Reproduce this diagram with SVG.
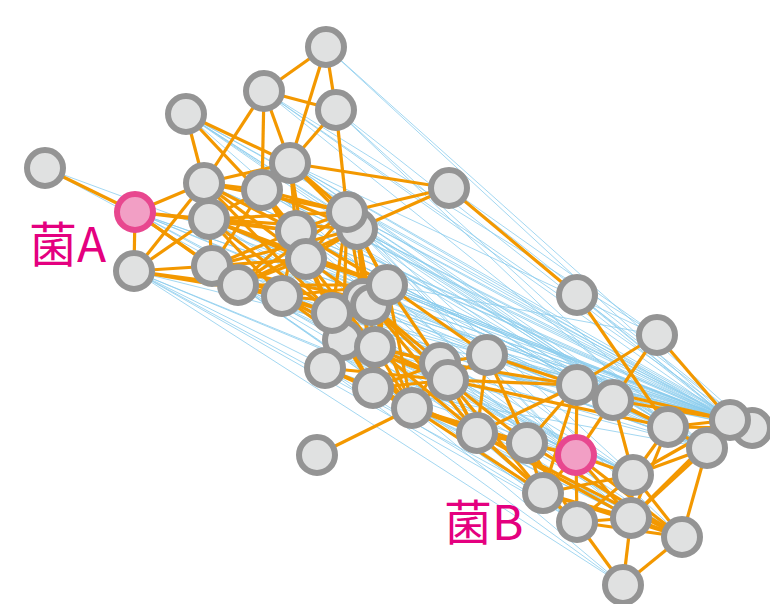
<svg xmlns="http://www.w3.org/2000/svg" width="770" height="604" viewBox="0 0 770 604">
<style>
.b{stroke:#8bcdee;stroke-width:0.8;fill:none}
.o{stroke:#f39800;stroke-width:3.2;fill:none}
.n{fill:#e0e1e1;stroke:#949494;stroke-width:6}
.p{fill:#f29fc5;stroke:#e8478f;stroke-width:6}
.lb{font-family:"Noto Sans CJK JP","Noto Sans",sans-serif;font-size:48px;fill:#e4007f}
</style>
<rect width="770" height="604" fill="#ffffff"/>
<g id="connectors">
<g id="weak-links">
<line class="b" x1="326" y1="47" x2="730" y2="420"/>
<line class="b" x1="326" y1="47" x2="752" y2="428"/>
<line class="b" x1="264" y1="91" x2="730" y2="420"/>
<line class="b" x1="264" y1="91" x2="752" y2="428"/>
<line class="b" x1="264" y1="91" x2="657" y2="335"/>
<line class="b" x1="264" y1="91" x2="707" y2="448"/>
<line class="b" x1="336" y1="110" x2="730" y2="420"/>
<line class="b" x1="336" y1="110" x2="707" y2="448"/>
<line class="b" x1="336" y1="110" x2="668" y2="427"/>
<line class="b" x1="186" y1="114" x2="730" y2="420"/>
<line class="b" x1="186" y1="114" x2="752" y2="428"/>
<line class="b" x1="186" y1="114" x2="707" y2="448"/>
<line class="b" x1="186" y1="114" x2="668" y2="427"/>
<line class="b" x1="186" y1="114" x2="613" y2="400"/>
<line class="b" x1="186" y1="114" x2="577" y2="385"/>
<line class="b" x1="186" y1="114" x2="576" y2="455"/>
<line class="b" x1="290" y1="163" x2="730" y2="420"/>
<line class="b" x1="290" y1="163" x2="752" y2="428"/>
<line class="b" x1="290" y1="163" x2="707" y2="448"/>
<line class="b" x1="290" y1="163" x2="657" y2="335"/>
<line class="b" x1="290" y1="163" x2="668" y2="427"/>
<line class="b" x1="204" y1="183" x2="730" y2="420"/>
<line class="b" x1="204" y1="183" x2="752" y2="428"/>
<line class="b" x1="204" y1="183" x2="707" y2="448"/>
<line class="b" x1="204" y1="183" x2="668" y2="427"/>
<line class="b" x1="204" y1="183" x2="576" y2="455"/>
<line class="b" x1="262" y1="190" x2="730" y2="420"/>
<line class="b" x1="262" y1="190" x2="752" y2="428"/>
<line class="b" x1="262" y1="190" x2="707" y2="448"/>
<line class="b" x1="262" y1="190" x2="613" y2="400"/>
<line class="b" x1="449" y1="188" x2="730" y2="420"/>
<line class="b" x1="449" y1="188" x2="752" y2="428"/>
<line class="b" x1="449" y1="188" x2="657" y2="335"/>
<line class="b" x1="135" y1="212" x2="730" y2="420"/>
<line class="b" x1="135" y1="212" x2="752" y2="428"/>
<line class="b" x1="135" y1="212" x2="707" y2="448"/>
<line class="b" x1="135" y1="212" x2="576" y2="455"/>
<line class="b" x1="135" y1="212" x2="633" y2="475"/>
<line class="b" x1="135" y1="212" x2="668" y2="427"/>
<line class="b" x1="45" y1="168" x2="730" y2="420"/>
<line class="b" x1="45" y1="168" x2="576" y2="455"/>
<line class="b" x1="209" y1="219" x2="730" y2="420"/>
<line class="b" x1="209" y1="219" x2="752" y2="428"/>
<line class="b" x1="209" y1="219" x2="707" y2="448"/>
<line class="b" x1="209" y1="219" x2="668" y2="427"/>
<line class="b" x1="209" y1="219" x2="633" y2="475"/>
<line class="b" x1="209" y1="219" x2="576" y2="455"/>
<line class="b" x1="347" y1="212" x2="730" y2="420"/>
<line class="b" x1="347" y1="212" x2="752" y2="428"/>
<line class="b" x1="347" y1="212" x2="707" y2="448"/>
<line class="b" x1="347" y1="212" x2="668" y2="427"/>
<line class="b" x1="347" y1="212" x2="633" y2="475"/>
<line class="b" x1="347" y1="212" x2="631" y2="518"/>
<line class="b" x1="357" y1="229" x2="730" y2="420"/>
<line class="b" x1="357" y1="229" x2="752" y2="428"/>
<line class="b" x1="357" y1="229" x2="707" y2="448"/>
<line class="b" x1="357" y1="229" x2="682" y2="537"/>
<line class="b" x1="357" y1="229" x2="576" y2="455"/>
<line class="b" x1="296" y1="231" x2="730" y2="420"/>
<line class="b" x1="296" y1="231" x2="752" y2="428"/>
<line class="b" x1="296" y1="231" x2="707" y2="448"/>
<line class="b" x1="296" y1="231" x2="633" y2="475"/>
<line class="b" x1="296" y1="231" x2="631" y2="518"/>
<line class="b" x1="134" y1="271" x2="730" y2="420"/>
<line class="b" x1="134" y1="271" x2="576" y2="455"/>
<line class="b" x1="134" y1="271" x2="543" y2="493"/>
<line class="b" x1="134" y1="271" x2="577" y2="522"/>
<line class="b" x1="134" y1="271" x2="631" y2="518"/>
<line class="b" x1="134" y1="271" x2="633" y2="475"/>
<line class="b" x1="134" y1="271" x2="623" y2="585"/>
<line class="b" x1="212" y1="266" x2="730" y2="420"/>
<line class="b" x1="212" y1="266" x2="707" y2="448"/>
<line class="b" x1="212" y1="266" x2="633" y2="475"/>
<line class="b" x1="212" y1="266" x2="576" y2="455"/>
<line class="b" x1="212" y1="266" x2="577" y2="522"/>
<line class="b" x1="212" y1="266" x2="682" y2="537"/>
<line class="b" x1="306" y1="259" x2="730" y2="420"/>
<line class="b" x1="306" y1="259" x2="752" y2="428"/>
<line class="b" x1="306" y1="259" x2="707" y2="448"/>
<line class="b" x1="306" y1="259" x2="631" y2="518"/>
<line class="b" x1="238" y1="285" x2="633" y2="475"/>
<line class="b" x1="238" y1="285" x2="576" y2="455"/>
<line class="b" x1="238" y1="285" x2="577" y2="522"/>
<line class="b" x1="238" y1="285" x2="631" y2="518"/>
<line class="b" x1="238" y1="285" x2="543" y2="493"/>
<line class="b" x1="282" y1="296" x2="730" y2="420"/>
<line class="b" x1="282" y1="296" x2="707" y2="448"/>
<line class="b" x1="282" y1="296" x2="633" y2="475"/>
<line class="b" x1="282" y1="296" x2="682" y2="537"/>
<line class="b" x1="387" y1="285" x2="730" y2="420"/>
<line class="b" x1="387" y1="285" x2="752" y2="428"/>
<line class="b" x1="387" y1="285" x2="707" y2="448"/>
<line class="b" x1="387" y1="285" x2="657" y2="335"/>
<line class="b" x1="363" y1="299" x2="730" y2="420"/>
<line class="b" x1="363" y1="299" x2="707" y2="448"/>
<line class="b" x1="371" y1="305" x2="730" y2="420"/>
<line class="b" x1="371" y1="305" x2="752" y2="428"/>
<line class="b" x1="332" y1="313" x2="730" y2="420"/>
<line class="b" x1="332" y1="313" x2="707" y2="448"/>
<line class="b" x1="332" y1="313" x2="633" y2="475"/>
<line class="b" x1="332" y1="313" x2="577" y2="522"/>
<line class="b" x1="343" y1="340" x2="707" y2="448"/>
<line class="b" x1="343" y1="340" x2="631" y2="518"/>
<line class="b" x1="375" y1="347" x2="730" y2="420"/>
<line class="b" x1="375" y1="347" x2="752" y2="428"/>
<line class="b" x1="325" y1="368" x2="633" y2="475"/>
<line class="b" x1="325" y1="368" x2="577" y2="522"/>
<line class="b" x1="325" y1="368" x2="623" y2="585"/>
<line class="b" x1="373" y1="388" x2="707" y2="448"/>
<line class="b" x1="373" y1="388" x2="631" y2="518"/>
<line class="b" x1="440" y1="363" x2="730" y2="420"/>
<line class="b" x1="440" y1="363" x2="752" y2="428"/>
<line class="b" x1="448" y1="380" x2="707" y2="448"/>
<line class="b" x1="448" y1="380" x2="682" y2="537"/>
<line class="b" x1="487" y1="355" x2="730" y2="420"/>
<line class="b" x1="487" y1="355" x2="752" y2="428"/>
<line class="b" x1="487" y1="355" x2="668" y2="427"/>
<line class="b" x1="577" y1="295" x2="730" y2="420"/>
<line class="b" x1="577" y1="295" x2="752" y2="428"/>
<line class="b" x1="412" y1="408" x2="623" y2="585"/>
<line class="b" x1="412" y1="408" x2="682" y2="537"/>
</g>
<g id="strong-links">
<line class="o" x1="326" y1="47" x2="264" y2="91"/>
<line class="o" x1="326" y1="47" x2="336" y2="110"/>
<line class="o" x1="326" y1="47" x2="290" y2="163"/>
<line class="o" x1="264" y1="91" x2="336" y2="110"/>
<line class="o" x1="264" y1="91" x2="290" y2="163"/>
<line class="o" x1="264" y1="91" x2="204" y2="183"/>
<line class="o" x1="264" y1="91" x2="262" y2="190"/>
<line class="o" x1="336" y1="110" x2="290" y2="163"/>
<line class="o" x1="336" y1="110" x2="347" y2="212"/>
<line class="o" x1="186" y1="114" x2="204" y2="183"/>
<line class="o" x1="186" y1="114" x2="290" y2="163"/>
<line class="o" x1="186" y1="114" x2="296" y2="231"/>
<line class="o" x1="45" y1="168" x2="135" y2="212"/>
<line class="o" x1="290" y1="163" x2="204" y2="183"/>
<line class="o" x1="290" y1="163" x2="262" y2="190"/>
<line class="o" x1="290" y1="163" x2="449" y2="188"/>
<line class="o" x1="290" y1="163" x2="296" y2="231"/>
<line class="o" x1="290" y1="163" x2="347" y2="212"/>
<line class="o" x1="290" y1="163" x2="306" y2="259"/>
<line class="o" x1="290" y1="163" x2="357" y2="229"/>
<line class="o" x1="204" y1="183" x2="262" y2="190"/>
<line class="o" x1="204" y1="183" x2="209" y2="219"/>
<line class="o" x1="204" y1="183" x2="347" y2="212"/>
<line class="o" x1="204" y1="183" x2="296" y2="231"/>
<line class="o" x1="204" y1="183" x2="306" y2="259"/>
<line class="o" x1="204" y1="183" x2="332" y2="313"/>
<line class="o" x1="262" y1="190" x2="209" y2="219"/>
<line class="o" x1="262" y1="190" x2="296" y2="231"/>
<line class="o" x1="262" y1="190" x2="347" y2="212"/>
<line class="o" x1="262" y1="190" x2="306" y2="259"/>
<line class="o" x1="262" y1="190" x2="357" y2="229"/>
<line class="o" x1="262" y1="190" x2="212" y2="266"/>
<line class="o" x1="449" y1="188" x2="347" y2="212"/>
<line class="o" x1="449" y1="188" x2="357" y2="229"/>
<line class="o" x1="449" y1="188" x2="577" y2="295"/>
<line class="o" x1="135" y1="212" x2="204" y2="183"/>
<line class="o" x1="135" y1="212" x2="209" y2="219"/>
<line class="o" x1="135" y1="212" x2="296" y2="231"/>
<line class="o" x1="135" y1="212" x2="212" y2="266"/>
<line class="o" x1="135" y1="212" x2="238" y2="285"/>
<line class="o" x1="135" y1="212" x2="134" y2="271"/>
<line class="o" x1="134" y1="271" x2="204" y2="183"/>
<line class="o" x1="134" y1="271" x2="209" y2="219"/>
<line class="o" x1="134" y1="271" x2="212" y2="266"/>
<line class="o" x1="134" y1="271" x2="238" y2="285"/>
<line class="o" x1="134" y1="271" x2="282" y2="296"/>
<line class="o" x1="209" y1="219" x2="347" y2="212"/>
<line class="o" x1="209" y1="219" x2="357" y2="229"/>
<line class="o" x1="209" y1="219" x2="296" y2="231"/>
<line class="o" x1="209" y1="219" x2="212" y2="266"/>
<line class="o" x1="209" y1="219" x2="306" y2="259"/>
<line class="o" x1="209" y1="219" x2="282" y2="296"/>
<line class="o" x1="209" y1="219" x2="387" y2="285"/>
<line class="o" x1="209" y1="219" x2="332" y2="313"/>
<line class="o" x1="347" y1="212" x2="296" y2="231"/>
<line class="o" x1="347" y1="212" x2="306" y2="259"/>
<line class="o" x1="347" y1="212" x2="387" y2="285"/>
<line class="o" x1="347" y1="212" x2="363" y2="299"/>
<line class="o" x1="347" y1="212" x2="332" y2="313"/>
<line class="o" x1="347" y1="212" x2="343" y2="340"/>
<line class="o" x1="357" y1="229" x2="306" y2="259"/>
<line class="o" x1="357" y1="229" x2="387" y2="285"/>
<line class="o" x1="357" y1="229" x2="371" y2="305"/>
<line class="o" x1="357" y1="229" x2="375" y2="347"/>
<line class="o" x1="357" y1="229" x2="373" y2="388"/>
<line class="o" x1="357" y1="229" x2="212" y2="266"/>
<line class="o" x1="357" y1="229" x2="238" y2="285"/>
<line class="o" x1="296" y1="231" x2="212" y2="266"/>
<line class="o" x1="296" y1="231" x2="238" y2="285"/>
<line class="o" x1="296" y1="231" x2="282" y2="296"/>
<line class="o" x1="296" y1="231" x2="332" y2="313"/>
<line class="o" x1="296" y1="231" x2="387" y2="285"/>
<line class="o" x1="212" y1="266" x2="306" y2="259"/>
<line class="o" x1="212" y1="266" x2="282" y2="296"/>
<line class="o" x1="212" y1="266" x2="363" y2="299"/>
<line class="o" x1="306" y1="259" x2="238" y2="285"/>
<line class="o" x1="306" y1="259" x2="387" y2="285"/>
<line class="o" x1="306" y1="259" x2="363" y2="299"/>
<line class="o" x1="306" y1="259" x2="343" y2="340"/>
<line class="o" x1="306" y1="259" x2="375" y2="347"/>
<line class="o" x1="238" y1="285" x2="282" y2="296"/>
<line class="o" x1="238" y1="285" x2="332" y2="313"/>
<line class="o" x1="238" y1="285" x2="347" y2="212"/>
<line class="o" x1="238" y1="285" x2="387" y2="285"/>
<line class="o" x1="282" y1="296" x2="387" y2="285"/>
<line class="o" x1="282" y1="296" x2="332" y2="313"/>
<line class="o" x1="282" y1="296" x2="343" y2="340"/>
<line class="o" x1="282" y1="296" x2="371" y2="305"/>
<line class="o" x1="282" y1="296" x2="375" y2="347"/>
<line class="o" x1="387" y1="285" x2="375" y2="347"/>
<line class="o" x1="387" y1="285" x2="440" y2="363"/>
<line class="o" x1="387" y1="285" x2="412" y2="408"/>
<line class="o" x1="387" y1="285" x2="487" y2="355"/>
<line class="o" x1="387" y1="285" x2="373" y2="388"/>
<line class="o" x1="363" y1="299" x2="332" y2="313"/>
<line class="o" x1="363" y1="299" x2="373" y2="388"/>
<line class="o" x1="363" y1="299" x2="325" y2="368"/>
<line class="o" x1="371" y1="305" x2="440" y2="363"/>
<line class="o" x1="371" y1="305" x2="448" y2="380"/>
<line class="o" x1="371" y1="305" x2="412" y2="408"/>
<line class="o" x1="371" y1="305" x2="477" y2="433"/>
<line class="o" x1="332" y1="313" x2="375" y2="347"/>
<line class="o" x1="332" y1="313" x2="325" y2="368"/>
<line class="o" x1="332" y1="313" x2="373" y2="388"/>
<line class="o" x1="332" y1="313" x2="412" y2="408"/>
<line class="o" x1="343" y1="340" x2="373" y2="388"/>
<line class="o" x1="343" y1="340" x2="412" y2="408"/>
<line class="o" x1="343" y1="340" x2="448" y2="380"/>
<line class="o" x1="343" y1="340" x2="440" y2="363"/>
<line class="o" x1="375" y1="347" x2="412" y2="408"/>
<line class="o" x1="375" y1="347" x2="440" y2="363"/>
<line class="o" x1="375" y1="347" x2="448" y2="380"/>
<line class="o" x1="375" y1="347" x2="477" y2="433"/>
<line class="o" x1="325" y1="368" x2="373" y2="388"/>
<line class="o" x1="325" y1="368" x2="412" y2="408"/>
<line class="o" x1="325" y1="368" x2="448" y2="380"/>
<line class="o" x1="373" y1="388" x2="440" y2="363"/>
<line class="o" x1="373" y1="388" x2="448" y2="380"/>
<line class="o" x1="373" y1="388" x2="477" y2="433"/>
<line class="o" x1="412" y1="408" x2="448" y2="380"/>
<line class="o" x1="412" y1="408" x2="317" y2="455"/>
<line class="o" x1="412" y1="408" x2="477" y2="433"/>
<line class="o" x1="412" y1="408" x2="527" y2="443"/>
<line class="o" x1="412" y1="408" x2="543" y2="493"/>
<line class="o" x1="412" y1="408" x2="440" y2="363"/>
<line class="o" x1="440" y1="363" x2="487" y2="355"/>
<line class="o" x1="440" y1="363" x2="477" y2="433"/>
<line class="o" x1="440" y1="363" x2="577" y2="385"/>
<line class="o" x1="448" y1="380" x2="487" y2="355"/>
<line class="o" x1="448" y1="380" x2="477" y2="433"/>
<line class="o" x1="448" y1="380" x2="527" y2="443"/>
<line class="o" x1="448" y1="380" x2="577" y2="385"/>
<line class="o" x1="448" y1="380" x2="543" y2="493"/>
<line class="o" x1="448" y1="380" x2="668" y2="427"/>
<line class="o" x1="487" y1="355" x2="477" y2="433"/>
<line class="o" x1="487" y1="355" x2="527" y2="443"/>
<line class="o" x1="487" y1="355" x2="577" y2="385"/>
<line class="o" x1="577" y1="295" x2="668" y2="427"/>
<line class="o" x1="657" y1="335" x2="577" y2="385"/>
<line class="o" x1="657" y1="335" x2="613" y2="400"/>
<line class="o" x1="657" y1="335" x2="730" y2="420"/>
<line class="o" x1="477" y1="433" x2="577" y2="385"/>
<line class="o" x1="477" y1="433" x2="543" y2="493"/>
<line class="o" x1="477" y1="433" x2="577" y2="522"/>
<line class="o" x1="477" y1="433" x2="527" y2="443"/>
<line class="o" x1="477" y1="433" x2="631" y2="518"/>
<line class="o" x1="477" y1="433" x2="682" y2="537"/>
<line class="o" x1="477" y1="433" x2="576" y2="455"/>
<line class="o" x1="527" y1="443" x2="577" y2="385"/>
<line class="o" x1="527" y1="443" x2="576" y2="455"/>
<line class="o" x1="527" y1="443" x2="543" y2="493"/>
<line class="o" x1="527" y1="443" x2="577" y2="522"/>
<line class="o" x1="527" y1="443" x2="682" y2="537"/>
<line class="o" x1="577" y1="385" x2="576" y2="455"/>
<line class="o" x1="577" y1="385" x2="543" y2="493"/>
<line class="o" x1="577" y1="385" x2="730" y2="420"/>
<line class="o" x1="577" y1="385" x2="668" y2="427"/>
<line class="o" x1="613" y1="400" x2="576" y2="455"/>
<line class="o" x1="613" y1="400" x2="633" y2="475"/>
<line class="o" x1="613" y1="400" x2="730" y2="420"/>
<line class="o" x1="613" y1="400" x2="707" y2="448"/>
<line class="o" x1="668" y1="427" x2="633" y2="475"/>
<line class="o" x1="668" y1="427" x2="730" y2="420"/>
<line class="o" x1="668" y1="427" x2="631" y2="518"/>
<line class="o" x1="668" y1="427" x2="752" y2="428"/>
<line class="o" x1="730" y1="420" x2="707" y2="448"/>
<line class="o" x1="730" y1="420" x2="633" y2="475"/>
<line class="o" x1="730" y1="420" x2="631" y2="518"/>
<line class="o" x1="707" y1="448" x2="633" y2="475"/>
<line class="o" x1="707" y1="448" x2="631" y2="518"/>
<line class="o" x1="707" y1="448" x2="682" y2="537"/>
<line class="o" x1="576" y1="455" x2="633" y2="475"/>
<line class="o" x1="576" y1="455" x2="543" y2="493"/>
<line class="o" x1="576" y1="455" x2="577" y2="522"/>
<line class="o" x1="576" y1="455" x2="631" y2="518"/>
<line class="o" x1="576" y1="455" x2="682" y2="537"/>
<line class="o" x1="633" y1="475" x2="577" y2="522"/>
<line class="o" x1="633" y1="475" x2="631" y2="518"/>
<line class="o" x1="633" y1="475" x2="682" y2="537"/>
<line class="o" x1="633" y1="475" x2="543" y2="493"/>
<line class="o" x1="543" y1="493" x2="577" y2="522"/>
<line class="o" x1="543" y1="493" x2="631" y2="518"/>
<line class="o" x1="543" y1="493" x2="682" y2="537"/>
<line class="o" x1="577" y1="522" x2="631" y2="518"/>
<line class="o" x1="577" y1="522" x2="623" y2="585"/>
<line class="o" x1="577" y1="522" x2="682" y2="537"/>
<line class="o" x1="631" y1="518" x2="682" y2="537"/>
<line class="o" x1="631" y1="518" x2="623" y2="585"/>
<line class="o" x1="682" y1="537" x2="623" y2="585"/>
</g>
</g>
<g id="nodes">
<g id="n1"><circle class="n" cx="326" cy="47" r="18"/></g>
<g id="n2"><circle class="n" cx="264" cy="91" r="18"/></g>
<g id="n3"><circle class="n" cx="336" cy="110" r="18"/></g>
<g id="n4"><circle class="n" cx="186" cy="114" r="18"/></g>
<g id="n5"><circle class="n" cx="45" cy="168" r="18"/></g>
<g id="n6"><circle class="n" cx="290" cy="163" r="18"/></g>
<g id="n7"><circle class="n" cx="204" cy="183" r="18"/></g>
<g id="n8"><circle class="n" cx="262" cy="190" r="18"/></g>
<g id="n9"><circle class="n" cx="449" cy="188" r="18"/></g>
<g id="bacteriumA"><circle class="p" cx="135" cy="212" r="18"/></g>
<g id="n10"><circle class="n" cx="209" cy="219" r="18"/></g>
<g id="n12"><circle class="n" cx="357" cy="229" r="18"/></g>
<g id="n11"><circle class="n" cx="347" cy="212" r="18"/></g>
<g id="n13"><circle class="n" cx="296" cy="231" r="18"/></g>
<g id="n14"><circle class="n" cx="134" cy="271" r="18"/></g>
<g id="n15"><circle class="n" cx="212" cy="266" r="18"/></g>
<g id="n16"><circle class="n" cx="306" cy="259" r="18"/></g>
<g id="n17"><circle class="n" cx="238" cy="285" r="18"/></g>
<g id="n18"><circle class="n" cx="282" cy="296" r="18"/></g>
<g id="n20"><circle class="n" cx="363" cy="299" r="18"/></g>
<g id="n21"><circle class="n" cx="371" cy="305" r="18"/></g>
<g id="n19"><circle class="n" cx="387" cy="285" r="18"/></g>
<g id="n23"><circle class="n" cx="343" cy="340" r="18"/></g>
<g id="n22"><circle class="n" cx="332" cy="313" r="18"/></g>
<g id="n24"><circle class="n" cx="375" cy="347" r="18"/></g>
<g id="n25"><circle class="n" cx="325" cy="368" r="18"/></g>
<g id="n26"><circle class="n" cx="373" cy="388" r="18"/></g>
<g id="n27"><circle class="n" cx="412" cy="408" r="18"/></g>
<g id="n28"><circle class="n" cx="440" cy="363" r="18"/></g>
<g id="n29"><circle class="n" cx="448" cy="380" r="18"/></g>
<g id="n30"><circle class="n" cx="487" cy="355" r="18"/></g>
<g id="n31"><circle class="n" cx="577" cy="295" r="18"/></g>
<g id="n32"><circle class="n" cx="657" cy="335" r="18"/></g>
<g id="n33"><circle class="n" cx="317" cy="455" r="18"/></g>
<g id="n34"><circle class="n" cx="477" cy="433" r="18"/></g>
<g id="n35"><circle class="n" cx="527" cy="443" r="18"/></g>
<g id="n36"><circle class="n" cx="577" cy="385" r="18"/></g>
<g id="n37"><circle class="n" cx="613" cy="400" r="18"/></g>
<g id="bacteriumB"><circle class="p" cx="576" cy="455" r="18"/></g>
<g id="n38"><circle class="n" cx="668" cy="427" r="18"/></g>
<g id="n40"><circle class="n" cx="752" cy="428" r="18"/></g>
<g id="n39"><circle class="n" cx="730" cy="420" r="18"/></g>
<g id="n41"><circle class="n" cx="707" cy="448" r="18"/></g>
<g id="n42"><circle class="n" cx="633" cy="475" r="18"/></g>
<g id="n43"><circle class="n" cx="543" cy="493" r="18"/></g>
<g id="n44"><circle class="n" cx="577" cy="522" r="18"/></g>
<g id="n45"><circle class="n" cx="631" cy="518" r="18"/></g>
<g id="n46"><circle class="n" cx="682" cy="537" r="18"/></g>
<g id="n47"><circle class="n" cx="623" cy="585" r="18"/></g>
</g>
<g id="labels">
<text class="lb" x="29" y="262">菌A</text>
<text class="lb" x="444" y="540">菌B</text>
</g>
</svg>
